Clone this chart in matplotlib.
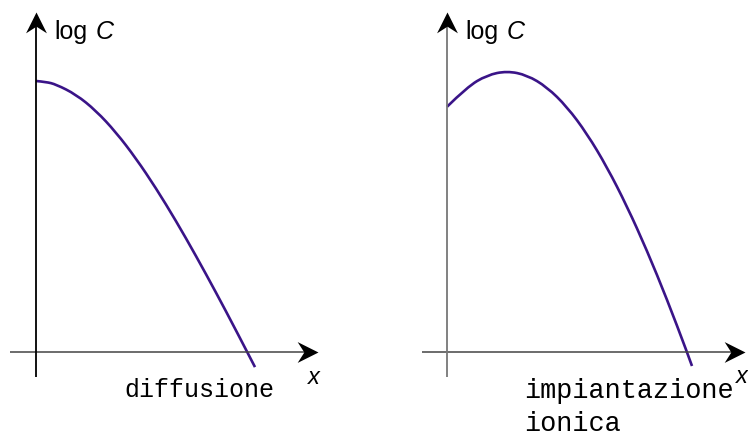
import numpy as np
import matplotlib
matplotlib.use('Agg')
import matplotlib.pyplot as plt
from matplotlib.path import Path
from matplotlib.patches import PathPatch

# profili di concentrazione (profondita', log C) in unita' arbitrarie
x_diff = [0.0, 0.1, 0.2, 0.4, 0.6, 0.8, 1.0, 1.2, 1.4, 1.6, 1.8, 2.0, 2.19]
logc_diff = [2.71, 2.701, 2.676, 2.575, 2.413, 2.197, 1.936, 1.638, 1.311, 0.961, 0.595, 0.217, -0.151]

x_impl = [0.0, 0.2, 0.4, 0.6, 0.8, 1.0, 1.2, 1.4, 1.6, 1.8, 2.0, 2.2, 2.4, 2.45]
logc_impl = [2.452, 2.649, 2.769, 2.81, 2.769, 2.649, 2.452, 2.183, 1.849, 1.457, 1.014, 0.526, 0.0, -0.14]

titoli = ['diffusione', 'impiantazione\nionica']
colore = '#3a1488'

# punte delle frecce
punta_dx = Path([(0, 0), (-1, 0.5), (-0.68, 0), (-1, -0.5), (0, 0)],
                [Path.MOVETO, Path.LINETO, Path.LINETO, Path.LINETO, Path.CLOSEPOLY])
punta_su = Path([(0, 0), (0.5, -1), (0, -0.68), (-0.5, -1), (0, 0)],
                [Path.MOVETO, Path.LINETO, Path.LINETO, Path.LINETO, Path.CLOSEPOLY])

fig = plt.figure(figsize=(7.48, 4.36), dpi=100)

sans = ['Liberation Sans Narrow', 'Liberation Sans', 'DejaVu Sans']
mono = ['Liberation Mono', 'DejaVu Sans Mono']


def curva(ax, xs, ys):
    # spline quadratica: i punti fanno da controllo, passaggio sui punti medi
    p = np.column_stack([xs, ys])
    verts = [p[0]]
    codes = [Path.MOVETO]
    n = len(p)
    for i in range(1, n - 1):
        fine = p[i + 1] if i == n - 2 else (p[i] + p[i + 1]) / 2
        verts += [p[i], fine]
        codes += [Path.CURVE3, Path.CURVE3]
    ax.add_patch(PathPatch(Path(verts, codes), fill=False, edgecolor=colore, lw=1.9,
                           capstyle='butt'))


def pannello(rect, xlim, xs, ys, titolo, x0_asse, x_punta, col_y, x_tit, fs_tit):
    ax = fig.add_axes(rect)
    ax.set_xlim(*xlim)
    ax.set_ylim(-0.84, 3.52)
    ax.axis('off')
    # assi con freccia
    ax.plot([x0_asse, x_punta - 0.11], [0, 0], color='#444444', lw=1.1, solid_capstyle='butt')
    ax.plot([0, 0], [-0.25, 3.30], color=col_y, lw=1.3, solid_capstyle='butt')
    ax.plot([x_punta], [0], marker=punta_dx, ms=30, color='black', mew=0)
    ax.plot([0], [3.40], marker=punta_su, ms=30, color='black', mew=0)
    curva(ax, xs, ys)
    ax.text(0.18, 3.13, 'log', fontsize=18, family=sans, va='baseline')
    ax.text(0.60, 3.13, 'C', fontsize=18, family=sans, style='italic', va='baseline')
    ax.text(x_tit, -0.26, titolo, fontsize=fs_tit, family=mono, va='top', linespacing=1.36)
    return ax


ax1 = pannello([0, 0, 0.5, 1], (-0.36, 3.38), x_diff, logc_diff, titoli[0],
               -0.26, 2.82, 'black', 0.88, 18)
ax1.text(2.78, -0.25, 'x', fontsize=17, family=sans, style='italic', ha='center', va='center')

ax2 = pannello([0.5, 0, 0.5, 1], (-0.73, 3.01), x_impl, logc_impl, titoli[1],
               -0.25, 2.98, '#777777', 0.77, 19.4)
ax2.text(2.95, -0.24, 'x', fontsize=17, family=sans, style='italic', ha='center', va='center')

fig.savefig('out.png', dpi=100)
